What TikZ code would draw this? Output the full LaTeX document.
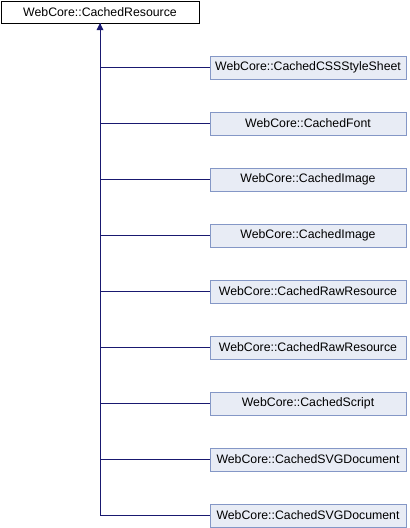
\documentclass[tikz,border=0pt]{standalone}
\usepackage{fontspec}
\setmainfont{Liberation Sans}
\definecolor{edgeblue}{HTML}{191970}
\definecolor{boxfill}{HTML}{E8ECF5}
\definecolor{boxline}{HTML}{8497C6}
\begin{document}
\begin{tikzpicture}[x=1pt,y=-1pt,
  basebox/.style={draw=black,fill=white,minimum width=198pt,minimum height=22pt,inner sep=0pt,font=\fontsize{12.3}{14}\selectfont},
  childbox/.style={draw=boxline,fill=boxfill,minimum width=196pt,minimum height=23pt,inner sep=0pt,font=\fontsize{12.3}{14}\selectfont},
  conn/.style={draw=edgeblue,line width=1pt}]
\useasboundingbox (0,0) rectangle (410,528);
\node[basebox] (root) at (100,12) {WebCore::CachedResource};
\foreach \n/\t [count=\i from 0] in {
  a/WebCore::CachedCSSStyleSheet,
  b/WebCore::CachedFont,
  c/WebCore::CachedImage,
  d/WebCore::CachedImage,
  e/WebCore::CachedRawResource,
  f/WebCore::CachedRawResource,
  g/WebCore::CachedScript,
  h/WebCore::CachedSVGDocument,
  k/WebCore::CachedSVGDocument}{
  \node[childbox] (\n) at (308,67.5+56*\i) {\t};
}
\coordinate (bend) at (100,515.5);
\draw[conn] (k.west) -- (bend) -- (root.south);
\fill[edgeblue] (root.south) -- ++(-3.5,7) -- ++(7,0) -- cycle;
\foreach \n in {a,b,c,d,e,f,g,h}{
  \draw[conn] (\n.west) -- (\n.west -| root.south);
}
\end{tikzpicture}
\end{document}
